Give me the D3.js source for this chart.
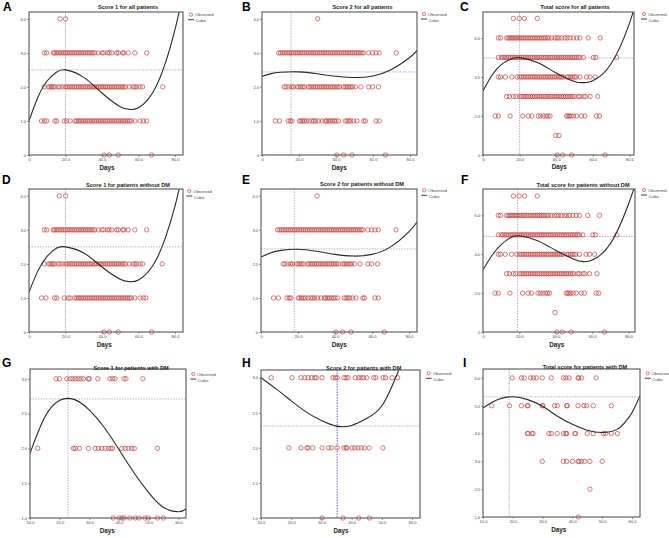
<!DOCTYPE html>
<html>
<head>
<meta charset="utf-8">
<script src="https://cdn.jsdelivr.net/npm/d3@7"></script>
<style>
  html, body { margin: 0; padding: 0; background: #fff; }
  svg { display: block; font-family: "Liberation Sans", Arial, sans-serif; }
</style>
</head>
<body>
<svg id="chart" width="669" height="538"></svg>
<script>
// ---------------- DATA ----------------
const letters = ["A","B","C","D","E","F","G","H","I"];
const titles = [
  "Score 1 for all patients",
  "Score 2 for all patients",
  "Total score for all patients",
  "Score 1 for patients without DM",
  "Score 2 for patients without DM",
  "Total score for patients without DM",
  "Score 1 for patients with DM",
  "Score 2 for patients with DM",
  "Total score for patients with DM"
];
const xLabel = "Days";
const legendLabels = ["Observed", "Cubic"];

const xTicksAll = [0, 20, 40, 60, 80];
const xTicksDM = [10, 20, 30, 40, 50, 60];
const yTicks4 = [0, 1, 2, 3, 4];
const yTicks6 = [0, 2, 4, 6];
const yTicksHalf = [1, 1.5, 2, 2.5, 3];
const yTicks16 = [1, 2, 3, 4, 5, 6];

const xDomains = [[0,84.4],[0,83.8],[0,82.5],[0,84.4],[0,84.3],[0,83.5],[10,62.5],[10,62.6],[10,62.7]];
const yDomains = [[0,4.2],[0,4.2],[0,7.33],[0,4.2],[0,4.2],[0,7.36],[1,3.14],[1,3.11],[1,6.32]];

const refX = [20, 15.7, 20, 20, 18, 19, 22.8, 35.2, 18.8];
const refY = [2.5, 2.44, 4.97, 2.5, 2.44, 4.92, 2.71, 2.31, 5.32];

// observed points: [score, [days...]]
const obsA = [
  [4, [17, 20]],
  [3, [8.4, 9.7, 13.3, 14, 15, 16, 17, 18, 19, 20, 21, 22, 23, 24, 25, 26, 27, 28, 29, 30, 31, 32, 33, 34, 35, 36, 38, 40, 41, 43, 44, 45.3, 48, 49, 51.4, 52, 54.4, 58, 64.5]],
  [2, [8.4, 10.6, 11.5, 12.4, 13.3, 14.2, 16, 17, 18.5, 20, 21, 22, 23, 24, 25, 26, 27, 28, 29, 30, 31, 32, 33, 34, 35, 36, 37, 38, 39, 40, 41, 42, 43, 44, 45, 46, 47, 48, 49, 50, 51, 52, 53, 55, 57, 58, 59, 60.8, 62.2, 73.3]],
  [1, [6.9, 8.5, 9.7, 14.2, 15.2, 19.3, 20.6, 22.5, 25.2, 26, 27, 28, 29, 30, 31, 32, 33, 34, 35, 36, 37, 38, 39, 40, 41, 42, 43, 44, 45, 46, 47, 48, 49, 50, 51, 52, 53, 54, 55, 56, 58, 60.8, 62.6, 64.5]],
  [0, [41.1, 44, 48.9, 67.2]]
];
const obsB = [
  [4, [30.1]],
  [3, [9, 10, 11, 12, 13, 14, 15, 16, 17, 18, 19, 20, 21, 22, 23, 24, 25, 26, 27, 28, 29, 30, 31, 32, 33, 34, 35, 36, 37, 38, 39, 40, 41, 42, 43, 44, 45, 46, 47, 48, 49, 50, 51, 52, 53, 54, 55, 57.7, 59.8, 61.6, 63.4, 72.6]],
  [2, [12, 13, 14.5, 16, 17, 19, 20, 21, 22, 23, 25, 26, 27, 28, 29, 30, 31, 32, 33, 34, 35, 36, 37, 38, 39, 40, 41, 42, 44, 45, 46, 47, 48, 49, 50.5, 53.5, 57.7, 59.8, 63]],
  [1, [7.2, 9.4, 14.1, 15.3, 16.2, 20.2, 21, 22, 23, 24, 25.5, 27, 28, 29, 30.5, 32.4, 34.2, 35, 36, 37, 38, 39, 40, 41.4, 45, 46, 47, 48, 49.5, 51.4, 55, 55.9, 61.6, 63.4]],
  [0, [40.5, 44.1, 48.6, 66.7]]
];
const obsC = [
  [7, [16.6, 19.8, 22.6, 29.7]],
  [6, [8.4, 9.6, 12.9, 13.8, 14.7, 15.6, 16.5, 17.4, 18.3, 19.2, 20.1, 21, 22, 23, 24, 25, 26, 27, 28, 29, 30, 31, 32, 33, 34, 35, 36, 37.5, 39.3, 40.5, 41.5, 43, 44.8, 46, 47.5, 49.3, 51.2, 53, 57.5, 64]],
  [5, [8.4, 10, 11, 12, 13, 14, 15, 16, 17, 18, 19, 20, 21, 22, 23, 24, 25, 26, 27, 28, 29, 30, 31, 32, 33, 34, 35, 36, 37, 38, 39, 40, 41, 42, 43, 44, 45, 46, 47, 48, 49, 50, 51, 52, 53, 54.8, 60.3, 61.7, 73]],
  [4, [8.4, 9.6, 12.2, 15.7, 18.6, 20, 21, 22, 23, 24, 25, 26, 27, 28, 29, 30, 31, 32, 33, 34, 35, 36, 37, 38, 39, 40, 41, 42, 43, 44, 46, 47, 48, 49, 50, 51, 53, 56.6, 58.5, 61.3]],
  [3, [12.9, 14.4, 16.6, 18, 20, 21, 22, 23, 24, 25, 26, 27, 28, 29, 30, 31, 32, 33, 34, 35, 36, 37, 38, 39, 40, 41, 42, 43, 44, 45, 46, 47, 48, 49, 50, 52, 53, 55, 56, 58.5, 62.6]],
  [2, [6.6, 8.4, 14.8, 21.7, 24.8, 26.6, 30.2, 31.5, 33, 34.5, 35.5, 36.6, 45.7, 46.5, 47.3, 48.2, 49.5, 51.2, 53.9, 55.7, 62.1, 63.6]],
  [1, [39.7, 41.5]],
  [0, [40.6, 43.5, 48.4, 66.7]]
];
const obsD = [
  [4, [16.6, 20.1]],
  [3, [8.4, 9.7, 13.3, 14, 15, 16, 17, 18, 19, 20, 21, 22, 23, 24, 25, 26, 27, 28, 29, 30, 31, 32, 33, 34, 35, 36, 38, 40, 41, 43, 44, 45.3, 48, 49, 51.4, 52, 54.4, 58, 64.5]],
  [2, [8.4, 10.6, 11.5, 12.4, 13.3, 14.2, 16, 17, 18.5, 20, 21, 22, 23, 24, 25, 26, 27, 28, 29, 30, 31, 32, 33, 34, 35, 36, 37, 38, 39, 40, 41, 42, 43, 44, 45, 46, 47, 48, 49, 50, 51, 52, 53, 55, 57, 58, 59, 60.8, 62.2, 73]],
  [1, [6.9, 9.3, 14, 15.2, 19.3, 21.5, 22.5, 25, 26, 27, 28, 29, 30, 31, 32, 33, 34, 35, 36, 37, 38, 39, 40, 41, 42, 43, 44, 45, 46, 47, 48, 49, 50, 51, 52, 53, 54, 55, 56, 58, 60.8, 62.6, 64]],
  [0, [41.1, 44, 48.9, 67.2]]
];
const obsE = [
  [4, [30.3]],
  [3, [9, 10, 11, 12, 13, 14, 15, 16, 17, 18, 19, 20, 21, 22, 23, 24, 25, 26, 27, 28, 29, 30, 31, 32, 33, 34, 35, 36, 37, 38, 39, 40, 41, 42, 43, 44, 45, 46, 47, 48, 49, 50, 51, 52, 53, 54, 55, 57.7, 59.8, 61.6, 63.4, 73]],
  [2, [12, 13, 14.5, 16, 17, 19, 20, 21, 22, 23, 25, 26, 27, 28, 29, 30, 31, 32, 33, 34, 35, 36, 37, 38, 39, 40, 41, 42, 44, 45, 46, 47, 48, 49, 50.5, 53.5, 57.7, 59.8, 63]],
  [1, [6.8, 9.4, 14.1, 15.3, 16.2, 20.2, 21, 22, 23, 24, 25.5, 27, 28, 29, 30.5, 32.4, 34.2, 35, 36, 37, 38, 39, 40, 41.4, 45, 46, 47, 48, 49.5, 51.4, 55, 55.9, 61.6, 63.4]],
  [0, [40.5, 44.1, 48.6, 66.7]]
];
const obsF = [
  [7, [16.7, 19.8, 22.9, 29.8]],
  [6, [8.4, 9.6, 12.9, 13.8, 14.7, 15.6, 16.5, 17.4, 18.3, 19.2, 20.1, 21, 22, 23, 24, 25, 26, 27, 28, 29, 30, 31, 32, 33, 34, 35, 36, 37.5, 39.3, 40.5, 41.5, 43, 44.8, 46, 47.5, 49.3, 51.2, 53, 57.5, 64]],
  [5, [8.4, 10, 11, 12, 13, 14, 15, 16, 17, 18, 19, 20, 21, 22, 23, 24, 25, 26, 27, 28, 29, 30, 31, 32, 33, 34, 35, 36, 37, 38, 39, 40, 41, 42, 43, 44, 45, 46, 47, 48, 49, 50, 51, 52, 53, 54.8, 60.3, 61.7, 73.5]],
  [4, [8.4, 9.6, 12.2, 15.7, 18.6, 20, 21, 22, 23, 24, 25, 26, 27, 28, 29, 30, 31, 32, 33, 34, 35, 36, 37, 38, 39, 40, 41, 42, 43, 44, 46, 47, 48, 49, 50, 51, 53, 56.6, 58.5, 61.3]],
  [3, [12.9, 14.4, 16.6, 18, 20, 21, 22, 23, 24, 25, 26, 27, 28, 29, 30, 31, 32, 33, 34, 35, 36, 37, 38, 39, 40, 41, 42, 43, 44, 45, 46, 47, 48, 49, 50, 52, 53, 55, 56, 58.5, 62.6]],
  [2, [6.6, 8.4, 14.8, 21.7, 24.8, 26.6, 30.2, 31.5, 33, 34.5, 35.5, 36.6, 45.7, 46.5, 47.3, 48.2, 49.5, 51.2, 53.9, 55.7, 62.1, 63.6]],
  [1, [39.6]],
  [0, [40.6, 43.5, 48.4, 66.7]]
];
const obsG = [
  [3, [18.75, 19.9, 22.4, 23.5, 24.4, 25.3, 26.2, 27.1, 28, 29.6, 30, 32.8, 36.9, 37.8, 38.6, 41.6, 42.3, 48]],
  [2, [12.6, 24.6, 25.2, 26.6, 29.6, 31.9, 33, 34.2, 35.3, 36.4, 37.2, 37.8, 40.9, 42, 43.1, 44.3, 45.1, 52.9]],
  [1, [38, 40, 41, 41.7, 43.6, 45.4, 46.7, 48.7, 49.8, 52.9, 54.9]]
];
const obsH = [
  [3, [13.4, 20.3, 23.2, 24.5, 25.6, 26.7, 27.8, 28.3, 30.2, 33.8, 34.6, 35.2, 37.4, 38.1, 38.8, 41.2, 42.3, 43.1, 43.9, 45, 47.3, 48, 50.4, 51.2, 53.4, 55.2]],
  [2, [19.2, 23.2, 25.2, 25.6, 27.1, 30.2, 32.4, 33.3, 35.2, 37.4, 38.1, 38.4, 40.1, 41, 42.1, 43.1, 44.2, 45.8, 50.3]],
  [1, [30.2, 37.1, 42.3, 45.9]]
];
const obsI = [
  [6, [19.8, 22.9, 23.8, 26, 26.9, 27.9, 29.9, 32.9, 37, 37.8, 38.9, 41.9, 42.2, 43.1, 48]],
  [5, [12.9, 18.9, 22.9, 24.9, 25.1, 29.9, 30.1, 34, 34.9, 38.1, 38.3, 41.9, 43.9, 44.8, 47, 53.1]],
  [4, [24.9, 25.1, 26.4, 26.8, 32.1, 32.9, 34.9, 37, 37.8, 38.1, 40.8, 41.1, 45, 47, 50.4, 51.2, 53.1, 55.1]],
  [3, [29.9, 37, 38.1, 40, 41.9, 42.2, 43, 44.1, 45.9, 50]],
  [2, [45.9]],
  [1, [42]]
];

// cubic fit lines: [day, score]
const fitA = [[0,1.0],[5,1.71],[10,2.18],[15,2.43],[20,2.5],[30,2.28],[40,1.82],[50,1.42],[55,1.34],[60,1.39],[70,2.05],[80,3.68],[85,4.97]];
const fitB = [[0,2.31],[5,2.39],[10,2.43],[20,2.44],[30,2.385],[40,2.313],[50,2.275],[60,2.32],[70,2.51],[80,2.87],[85,3.14]];
const fitC = [[0,3.28],[5,4.10],[10,4.63],[15,4.91],[20,4.99],[30,4.73],[40,4.20],[50,3.77],[55,3.71],[60,3.81],[70,4.68],[80,6.75],[85,8.34]];
const fitD = [[0,1.17],[5,1.81],[10,2.23],[15,2.46],[20,2.5],[30,2.32],[40,1.91],[50,1.55],[55,1.48],[60,1.53],[70,2.15],[80,3.7],[85,4.9]];
const fitE = [[0,2.2],[5,2.32],[10,2.39],[20,2.43],[30,2.37],[40,2.28],[50,2.23],[60,2.28],[70,2.5],[80,2.95],[85,3.28]];
const fitF = [[0,3.2],[5,3.95],[10,4.5],[15,4.85],[20,4.95],[30,4.7],[40,4.2],[50,3.75],[55,3.62],[60,3.7],[70,4.55],[80,6.6],[85,8.0]];
const fitG = [[10,1.93],[15,2.45],[20,2.69],[25,2.70],[30,2.55],[35,2.30],[40,1.98],[45,1.65],[50,1.36],[55,1.15],[60,1.09],[62.5,1.13]];
const fitH = [[10,3.0],[15,2.84],[20,2.67],[25,2.51],[30,2.39],[35,2.31],[40,2.32],[45,2.42],[50,2.6],[55,3.05],[60,3.6]];
const fitI = [[10,4.92],[15,5.22],[20,5.32],[25,5.22],[30,4.98],[35,4.62],[40,4.33],[45,4.12],[50,4.04],[55,4.15],[58,4.45],[60,4.75],[62.7,5.35]];

// ---------------- LAYOUT ----------------
const observed = [obsA, obsB, obsC, obsD, obsE, obsF, obsG, obsH, obsI];
const fits = [fitA, fitB, fitC, fitD, fitE, fitF, fitG, fitH, fitI];
const xTickSets = [xTicksAll, xTicksAll, xTicksAll, xTicksAll, xTicksAll, xTicksAll, xTicksDM, xTicksDM, xTicksDM];
const yTickSets = [yTicks4, yTicks4, yTicks6, yTicks4, yTicks4, yTicks6, yTicksHalf, yTicksHalf, yTicks16];

const boxes = [
  {x0:29, x1:183, y0:12, y1:155},
  {x0:262, x1:417, y0:12, y1:155},
  {x0:483, x1:634, y0:12, y1:155},
  {x0:29, x1:183, y0:189, y1:332},
  {x0:261, x1:417, y0:189, y1:332},
  {x0:483, x1:635, y0:189, y1:332},
  {x0:30, x1:186, y0:369, y1:518},
  {x0:261, x1:420, y0:370, y1:518},
  {x0:483, x1:640, y0:369, y1:517}
];
const letterPos = [[3,11],[242,11],[460,11],[2,184],[242,184],[461,184],[2,367],[242,367],[463,367]];
const titlePos = [[128,8.7],[362.5,9.3],[575,9.3],[128,187],[362,186],[583,187],[131,370],[363.7,369.7],[585,368.7]];
const legendPos = [[191,14.7],[424,14],[644,14],[189.3,191],[424.3,190.3],[644,190],[193.3,374],[428.7,373.3],[647.7,373.3]];
const daysPos = [[107,170],[339.3,170],[559.3,169],[104.3,346.5],[339.3,347],[556.7,347],[107.3,532.5],[341,532.5],[558.7,531.5]];

const RED = "#c9403c";
const REF = "#9a9ad6";
const fmt = v => v === 0 ? "0" : d3.format(".1f")(v);

const svg = d3.select("#chart");
const defs = svg.append("defs");

boxes.forEach((b, i) => {
  const g = svg.append("g");
  const x = d3.scaleLinear().domain(xDomains[i]).range([b.x0, b.x1]);
  const y = d3.scaleLinear().domain(yDomains[i]).range([b.y1, b.y0]);

  defs.append("clipPath").attr("id", "clip" + i)
    .append("rect").attr("x", b.x0).attr("y", b.y0)
    .attr("width", b.x1 - b.x0).attr("height", b.y1 - b.y0);

  // reference lines
  g.append("line")
    .attr("x1", b.x0).attr("x2", b.x1)
    .attr("y1", y(refY[i])).attr("y2", y(refY[i]))
    .attr("stroke", REF).attr("stroke-width", 0.8).attr("stroke-dasharray", "1.5,1.2");
  g.append("line")
    .attr("x1", x(refX[i])).attr("x2", x(refX[i]))
    .attr("y1", b.y0).attr("y2", b.y1)
    .attr("stroke", i === 7 ? "#5a5ac8" : REF).attr("stroke-width", i === 7 ? 1 : 0.8)
    .attr("stroke-dasharray", "1.5,1.2");

  // observed points
  const pts = [];
  observed[i].forEach(([score, days]) => days.forEach(d => pts.push([d, score])));
  g.append("g").selectAll("circle").data(pts).join("circle")
    .attr("cx", d => x(d[0])).attr("cy", d => y(d[1])).attr("r", 2.2)
    .attr("fill", "none").attr("stroke", RED).attr("stroke-width", 0.7);

  // cubic fit
  g.append("path").datum(fits[i])
    .attr("clip-path", `url(#clip${i})`)
    .attr("d", d3.line().x(d => x(d[0])).y(d => y(d[1])).curve(d3.curveNatural))
    .attr("fill", "none").attr("stroke", "#2a2a2a").attr("stroke-width", 1.1);

  // frame
  g.append("rect").attr("x", b.x0).attr("y", b.y0)
    .attr("width", b.x1 - b.x0).attr("height", b.y1 - b.y0)
    .attr("fill", "none").attr("stroke", "#555").attr("stroke-width", 1.1);

  // axes
  const ax = g.append("g").attr("transform", `translate(0,${b.y1})`)
    .call(d3.axisBottom(x).tickValues(xTickSets[i]).tickFormat(fmt).tickSize(2).tickPadding(1));
  const ay = g.append("g").attr("transform", `translate(${b.x0},0)`)
    .call(d3.axisLeft(y).tickValues(yTickSets[i]).tickFormat(fmt).tickSize(2).tickPadding(1));
  [ax, ay].forEach(a => {
    a.select(".domain").remove();
    a.selectAll("line").attr("stroke", "#555").attr("stroke-width", 0.6);
    a.selectAll("text").attr("font-size", 4).attr("fill", "#444")
      .attr("font-family", "'Liberation Sans', Arial, sans-serif");
  });

  // panel letter
  svg.append("text").attr("x", letterPos[i][0]).attr("y", letterPos[i][1])
    .attr("font-size", 12).attr("font-weight", "bold").attr("fill", "#000")
    .text(letters[i]);

  // title
  svg.append("text").attr("x", titlePos[i][0]).attr("y", titlePos[i][1])
    .attr("text-anchor", "middle").attr("font-size", 5.6).attr("font-weight", "bold")
    .attr("fill", "#222").text(titles[i]);

  // x label
  svg.append("text").attr("x", daysPos[i][0]).attr("y", daysPos[i][1])
    .attr("text-anchor", "middle").attr("font-size", 6.3).attr("font-weight", "bold")
    .attr("fill", "#222").text(xLabel);

  // legend
  const [lx, ly] = legendPos[i];
  svg.append("circle").attr("cx", lx).attr("cy", ly).attr("r", 1.6)
    .attr("fill", "none").attr("stroke", RED).attr("stroke-width", 0.7);
  svg.append("line").attr("x1", lx - 3).attr("x2", lx + 3).attr("y1", ly + 5).attr("y2", ly + 5)
    .attr("stroke", "#2a2a2a").attr("stroke-width", 0.9);
  svg.append("text").attr("x", lx + 4).attr("y", ly + 1.5).attr("font-size", 4.3)
    .attr("fill", "#444").text(legendLabels[0]);
  svg.append("text").attr("x", lx + 4.5).attr("y", ly + 7.5).attr("font-size", 4.3)
    .attr("fill", "#444").text(legendLabels[1]);
});
</script>
</body>
</html>
